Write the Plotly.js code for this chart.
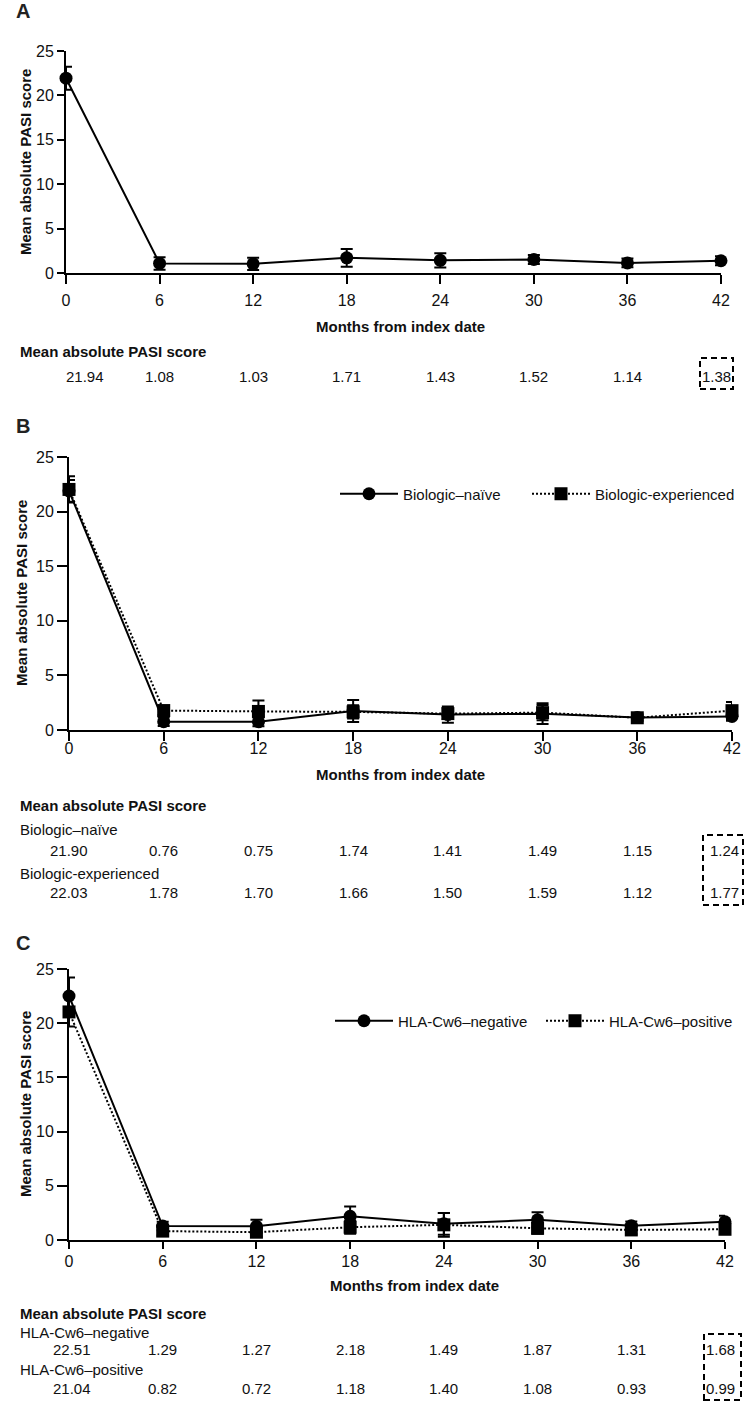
<!DOCTYPE html>
<html><head><meta charset="utf-8">
<script src="https://cdn.plot.ly/plotly-3.0.1.min.js"></script>
<style>html,body{margin:0;padding:0;background:#fff}#chart{width:748px;height:1416px}</style>
</head><body><div id="chart"></div>
<script>
// ---------- data ----------
const months = [0, 6, 12, 18, 24, 30, 36, 42];
const monthLabels = ['0', '6', '12', '18', '24', '30', '36', '42'];
const yTickVals = [0, 5, 10, 15, 20, 25];

// Panel A – all patients
const allMean = [21.94, 1.08, 1.03, 1.71, 1.43, 1.52, 1.14, 1.38];
const allErr  = [1.3, 0.7, 0.7, 1.0, 0.8, 0.5, 0.5, 0.5];

// Panel B – biologic status
const naiveName = 'Biologic–naïve';
const naiveMean = [21.90, 0.76, 0.75, 1.74, 1.41, 1.49, 1.15, 1.24];
const naiveErr  = [1.0, 0.4, 0.4, 1.0, 0.75, 0.95, 0.3, 0.4];
const expName = 'Biologic-experienced';
const expMean = [22.03, 1.78, 1.70, 1.66, 1.50, 1.59, 1.12, 1.77];
const expErr  = [1.2, 0.4, 1.0, 0.6, 0.5, 0.7, 0.3, 0.8];

// Panel C – HLA-Cw6 status
const negName = 'HLA-Cw6–negative';
const negMean = [22.51, 1.29, 1.27, 2.18, 1.49, 1.87, 1.31, 1.68];
const negErr  = [1.7, 0.4, 0.6, 0.9, 1.0, 0.7, 0.4, 0.55];
const posName = 'HLA-Cw6–positive';
const posMean = [21.04, 0.82, 0.72, 1.18, 1.40, 1.08, 0.93, 0.99];
const posErr  = [1.35, 0.4, 0.4, 0.6, 1.1, 0.5, 0.4, 0.4];

const yTitle = 'Mean absolute PASI score';
const xTitle = 'Months from index date';
const tableTitle = 'Mean absolute PASI score';

// ---------- layout helpers ----------
const W = 748, H = 1416;
const px = v => v / W;
const py = v => 1 - v / H;
const FONT = 'Arial, "Liberation Sans", Helvetica, sans-serif';
const INK = '#111';

function xAxis(x0, x1, anchor, standoff, len) {
  return {domain: [px(x0), px(x1)], anchor: anchor, range: [0, 42],
    tickmode: 'array', tickvals: months, ticktext: monthLabels,
    showline: true, linewidth: 2, linecolor: '#000', mirror: false,
    ticks: 'outside', ticklen: len, tickwidth: 2, tickcolor: '#000',
    ticklabelstandoff: standoff,
    showgrid: false, zeroline: false, tickfont: {size: 16, color: INK}, fixedrange: true};
}
function yAxis(y0, y1, anchor, len) {
  return {domain: [py(y1), py(y0)], anchor: anchor, range: [0, 25],
    tickmode: 'array', tickvals: yTickVals,
    showline: true, linewidth: 2, linecolor: '#000',
    ticks: 'outside', ticklen: len, tickwidth: 2, tickcolor: '#000',
    showgrid: false, zeroline: false, tickfont: {size: 16, color: INK}, fixedrange: true};
}
function series(name, y, err, xa, ya, dotted, square, legend, show) {
  return {type: 'scatter', mode: 'lines+markers', name: name, x: months, y: y,
    xaxis: xa, yaxis: ya, cliponaxis: false, legend: legend, showlegend: show,
    line: {color: '#000', width: 2, dash: dotted ? '2px,2px' : 'solid'},
    marker: {color: '#000', size: 13, symbol: square ? 'square' : 'circle'},
    error_y: {type: 'data', array: err, visible: true, color: '#000', thickness: 2, width: 6}};
}

const traces = [
  series('All patients', allMean, allErr, 'x', 'y', false, false, 'legend', false),
  series(naiveName, naiveMean, naiveErr, 'x2', 'y2', false, false, 'legend2', true),
  series(expName, expMean, expErr, 'x2', 'y2', true, true, 'legend3', true),
  series(negName, negMean, negErr, 'x3', 'y3', false, false, 'legend4', true),
  series(posName, posMean, posErr, 'x3', 'y3', true, true, 'legend5', true)
];

const ann = [];
function txt(text, x, y, opts) {
  ann.push(Object.assign({text: text, x: px(x), y: py(y), xref: 'paper', yref: 'paper',
    showarrow: false, xanchor: 'center', yanchor: 'middle', borderpad: 0,
    font: {family: FONT, size: 15, color: INK}}, opts || {}));
}
function bold(t) { return '<b>' + t + '</b>'; }

// panel letters
txt(bold('A'), 15, 11, {xanchor: 'left', font: {family: FONT, size: 20, color: '#222'}});
txt(bold('B'), 15, 426, {xanchor: 'left', font: {family: FONT, size: 20, color: '#222'}});
txt(bold('C'), 15, 943, {xanchor: 'left', font: {family: FONT, size: 20, color: '#222'}});

// y titles
txt(bold(yTitle), 25, 162, {textangle: -90});
txt(bold(yTitle), 22, 593, {textangle: -90});
txt(bold(yTitle), 25, 1104, {textangle: -90});
// x titles
txt(bold(xTitle), 400, 327);
txt(bold(xTitle), 400, 774);
txt(bold(xTitle), 414, 1285);

// tables
function rowValues(vals, xref, y, firstShift, lastShift) {
  vals.forEach((v, i) => {
    let shift = i === 0 ? firstShift : (i === vals.length - 1 ? lastShift : 0);
    ann.push({text: v.toFixed(2), x: months[i], xref: xref, y: py(y), yref: 'paper',
      xshift: shift, showarrow: false, xanchor: 'center', yanchor: 'middle', borderpad: 0,
      font: {family: FONT, size: 15, color: INK}});
  });
}
txt(bold(tableTitle), 19, 351, {xanchor: 'left'});
rowValues(allMean, 'x', 376, 19, -5);

txt(bold(tableTitle), 19, 805, {xanchor: 'left'});
txt(naiveName, 19, 829, {xanchor: 'left'});
rowValues(naiveMean, 'x2', 850, 0, -8);
txt(expName, 19, 873, {xanchor: 'left'});
rowValues(expMean, 'x2', 893, 0, -8);

txt(bold(tableTitle), 19, 1313, {xanchor: 'left'});
txt(negName, 19, 1332, {xanchor: 'left'});
rowValues(negMean, 'x3', 1349, 3, -5);
txt(posName, 19, 1369, {xanchor: 'left'});
rowValues(posMean, 'x3', 1388, 3, -5);

function box(x0, y0, x1, y1) {
  return {type: 'rect', xref: 'paper', yref: 'paper', x0: px(x0), x1: px(x1), y0: py(y1), y1: py(y0),
    line: {color: '#000', width: 2, dash: '6px,4px'}, fillcolor: 'rgba(0,0,0,0)'};
}
const shapes = [box(700, 358, 733, 389), box(703, 835, 743, 905), box(704, 1334, 741, 1400)];

function leg(x, y) {
  return {x: px(x), y: py(y), xanchor: 'left', yanchor: 'middle', orientation: 'h',
    itemwidth: 58, bgcolor: 'rgba(0,0,0,0)', borderwidth: 0,
    font: {family: FONT, size: 15, color: INK}, itemclick: false, itemdoubleclick: false};
}

const layout = {
  width: W, height: H, margin: {l: 0, r: 0, t: 0, b: 0},
  paper_bgcolor: '#fff', plot_bgcolor: '#fff',
  font: {family: FONT, color: INK},
  xaxis: xAxis(66, 721, 'y', 3, 9),
  yaxis: yAxis(51, 273, 'x', 7),
  xaxis2: xAxis(69, 732, 'y2', -6, 9),
  yaxis2: yAxis(457, 730, 'x2', 10),
  xaxis3: xAxis(69, 725, 'y3', -1, 7),
  yaxis3: yAxis(969, 1240, 'x3', 10),
  legend2: leg(335, 494),
  legend3: leg(527, 494),
  legend4: leg(330, 1021),
  legend5: leg(541, 1021),
  annotations: ann,
  shapes: shapes
};

Plotly.newPlot('chart', traces, layout, {staticPlot: true, displayModeBar: false});
</script>
</body></html>
